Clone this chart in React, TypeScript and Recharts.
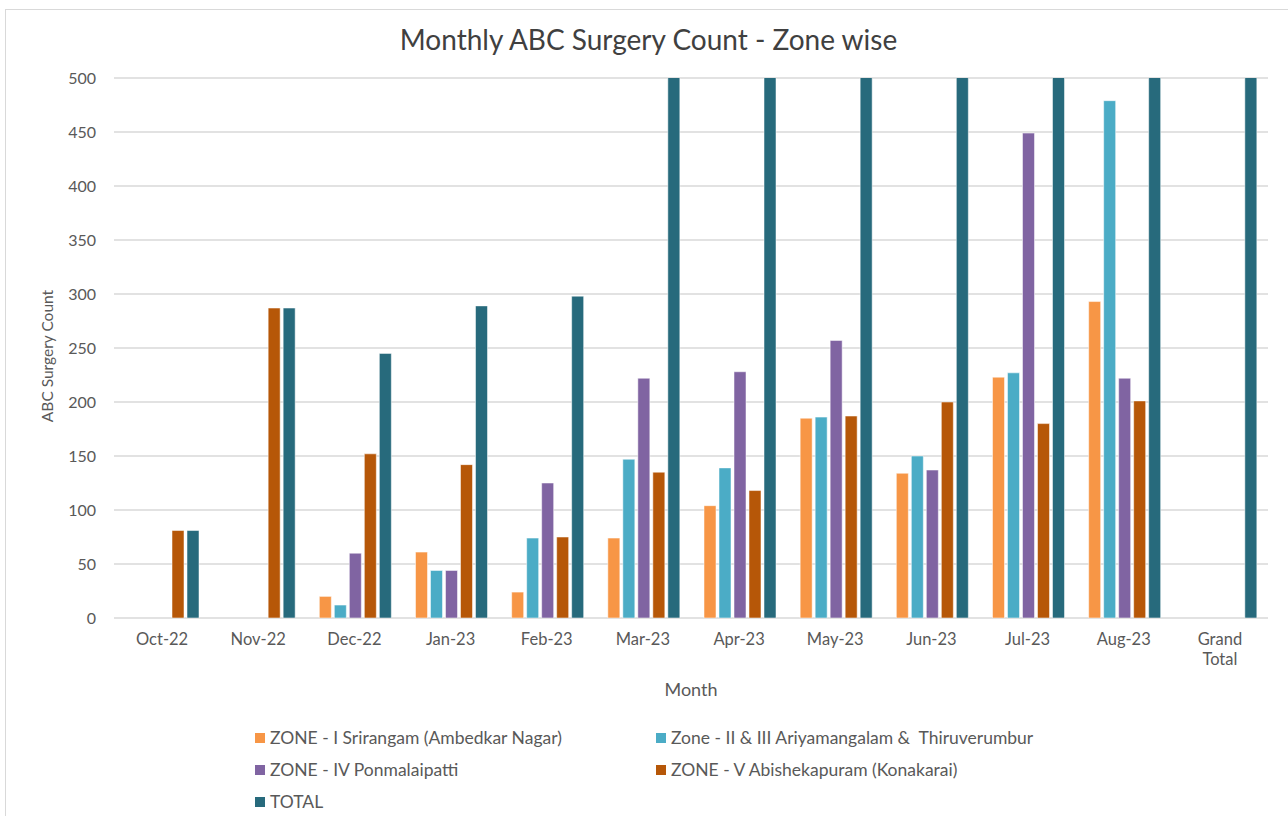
import { BarChart, Bar, XAxis, YAxis, CartesianGrid, Label } from 'recharts'

// months on the category axis
const months = ['Oct-22', 'Nov-22', 'Dec-22', 'Jan-23', 'Feb-23', 'Mar-23', 'Apr-23', 'May-23', 'Jun-23', 'Jul-23', 'Aug-23', 'Grand Total']

// counts per zone (null = no bar)
const zone1 = [null, null, 20, 61, 24, 74, 104, 185, 134, 223, 293, null]
const zone2and3 = [null, null, 12, 44, 74, 147, 139, 186, 150, 227, 479, null]
const zone4 = [null, null, 60, 44, 125, 222, 228, 257, 137, 449, 222, null]
const zone5 = [81, 287, 152, 142, 75, 135, 118, 187, 200, 180, 201, null]
// totals above 500 are cut off by the axis in the original
const total = [81, 287, 245, 289, 298, 578, 589, 815, 621, 1079, 1195, 5877]

const yTicks = [0, 50, 100, 150, 200, 250, 300, 350, 400, 450, 500]

const series = [
  { key: 'z1', name: 'ZONE - I Srirangam (Ambedkar Nagar)', color: '#F79646', values: zone1 },
  { key: 'z2', name: 'Zone - II & III Ariyamangalam &  Thiruverumbur', color: '#4BACC6', values: zone2and3 },
  { key: 'z4', name: 'ZONE - IV Ponmalaipatti', color: '#8064A2', values: zone4 },
  { key: 'z5', name: 'ZONE - V Abishekapuram (Konakarai)', color: '#B65708', values: zone5 },
  { key: 'total', name: 'TOTAL', color: '#276A7C', values: total },
]

const data = months.map((m, i) => {
  const row: Record<string, string | number | null> = { month: m }
  series.forEach((s) => {
    row[s.key] = s.values[i]
  })
  return row
})

const font = 'Lato, "Open Sans", sans-serif'

function MonthTick({ x, y, payload }: any) {
  const words = String(payload.value).split(' ')
  return (
    <text x={x} y={y} textAnchor="middle" fill="#595959" fontSize={16.5} fontFamily={font}>
      {words.map((w, i) => (
        <tspan key={i} x={x} dy={i === 0 ? 19 : 20}>
          {w}
        </tspan>
      ))}
    </text>
  )
}

// legend positions copy the two-column layout of the original
const legendSlots = [
  { left: 255, top: 727 },
  { left: 656, top: 727 },
  { left: 255, top: 759 },
  { left: 656, top: 759 },
  { left: 255, top: 791 },
]

export default function App() {
  return (
    <div
      style={{
        position: 'absolute',
        left: 0,
        top: 0,
        width: 1288,
        height: 816,
        overflow: 'hidden',
        background: '#fff',
        fontFamily: font,
      }}
    >
      <div
        style={{
          position: 'absolute',
          left: 5,
          top: 9,
          width: 1300,
          height: 830,
          border: '1px solid #d9d9d9',
        }}
      />
      <div
        style={{
          position: 'absolute',
          left: 0,
          width: 1297,
          top: 22,
          textAlign: 'center',
          fontSize: 28,
          color: '#404040',
        }}
      >
        Monthly ABC Surgery Count - Zone wise
      </div>

      <div style={{ position: 'absolute', left: 0, top: 0 }}>
        <BarChart
          width={1288}
          height={816}
          data={data}
          margin={{ top: 78, right: 20, left: 0, bottom: 110 }}
          barCategoryGap={13}
          barGap={3}
        >
          <CartesianGrid vertical={false} stroke="#d9d9d9" strokeWidth={1.5} />
          <XAxis
            dataKey="month"
            axisLine={false}
            tickLine={false}
            tick={<MonthTick />}
            interval={0}
            height={88}
          >
            <Label value="Month" position="insideBottom" offset={10} fill="#595959" fontSize={18} fontFamily={font} />
          </XAxis>
          <YAxis
            width={114}
            domain={[0, 500]}
            ticks={yTicks}
            allowDataOverflow
            axisLine={false}
            tickLine={false}
            tickMargin={12}
            tick={{ fill: '#595959', fontSize: 16, fontFamily: font }}
          >
            <Label
              value="ABC Surgery Count"
              angle={-90}
              position="insideLeft"
              offset={47}
              dy={8}
              fill="#595959"
              fontSize={15.5}
              fontFamily={font}
              style={{ textAnchor: 'middle' }}
            />
          </YAxis>
          {series.map((s) => (
            <Bar
              key={s.key}
              dataKey={s.key}
              name={s.name}
              fill={s.color}
              stroke="#ffffff"
              strokeOpacity={0.5}
              strokeWidth={1}
              isAnimationActive={false}
            />
          ))}
        </BarChart>
      </div>

      {series.map((s, i) => (
        <div
          key={s.key}
          style={{
            position: 'absolute',
            left: legendSlots[i].left,
            top: legendSlots[i].top,
            display: 'flex',
            alignItems: 'center',
            fontSize: 17.5,
            color: '#595959',
            whiteSpace: 'pre',
          }}
        >
          <span style={{ display: 'inline-block', width: 10, height: 10, background: s.color, marginRight: 5 }} />
          {s.name}
        </div>
      ))}
    </div>
  )
}
